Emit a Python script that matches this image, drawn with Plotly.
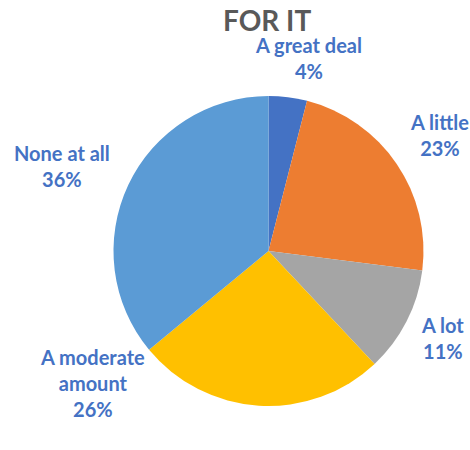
import plotly.graph_objects as go

categories = ["A great deal", "A little", "A lot", "A moderate amount", "None at all"]
values = [4, 23, 11, 26, 36]
colors = ["#4472C4", "#ED7D31", "#A5A5A5", "#FFC000", "#5B9BD5"]

# label text lines (category wording split across lines) and their paper positions
label_lines = [["A great deal"], ["A little"], ["A lot"], ["A moderate", "amount"], ["None at all"]]
label_pos = [(308, 58), (439, 135), (442, 338), (92, 383), (62, 166)]

W, H = 470, 450

fig = go.Figure(
    go.Pie(
        labels=categories,
        values=values,
        marker=dict(colors=colors, line=dict(width=0)),
        sort=False,
        direction="clockwise",
        rotation=0,
        textinfo="none",
        hoverinfo="label+percent",
        domain=dict(x=[113 / W, 424 / W], y=[1 - 406 / H, 1 - 96 / H]),
        showlegend=False,
    )
)

total = sum(values)
annotations = []
for lines, v, (px, py) in zip(label_lines, values, label_pos):
    pct = round(100 * v / total)
    text = "<br>".join(lines + [f"{pct}%"])
    annotations.append(
        dict(
            x=px / W,
            y=1 - py / H,
            xref="paper",
            yref="paper",
            text=text,
            showarrow=False,
            align="center",
            xanchor="center",
            yanchor="middle",
            font=dict(family="Lato", size=20, color="#4472C4", weight="bold"),
        )
    )

annotations.append(
    dict(
        x=267 / W,
        y=1 - 20 / H,
        xref="paper",
        yref="paper",
        text="FOR IT",
        showarrow=False,
        xanchor="center",
        yanchor="middle",
        font=dict(family="Lato", size=28, color="#595959", weight="bold"),
    )
)

fig.update_layout(
    width=W,
    height=H,
    margin=dict(l=0, r=0, t=0, b=0),
    paper_bgcolor="white",
    plot_bgcolor="white",
    annotations=annotations,
)

fig.write_html("out.html")
